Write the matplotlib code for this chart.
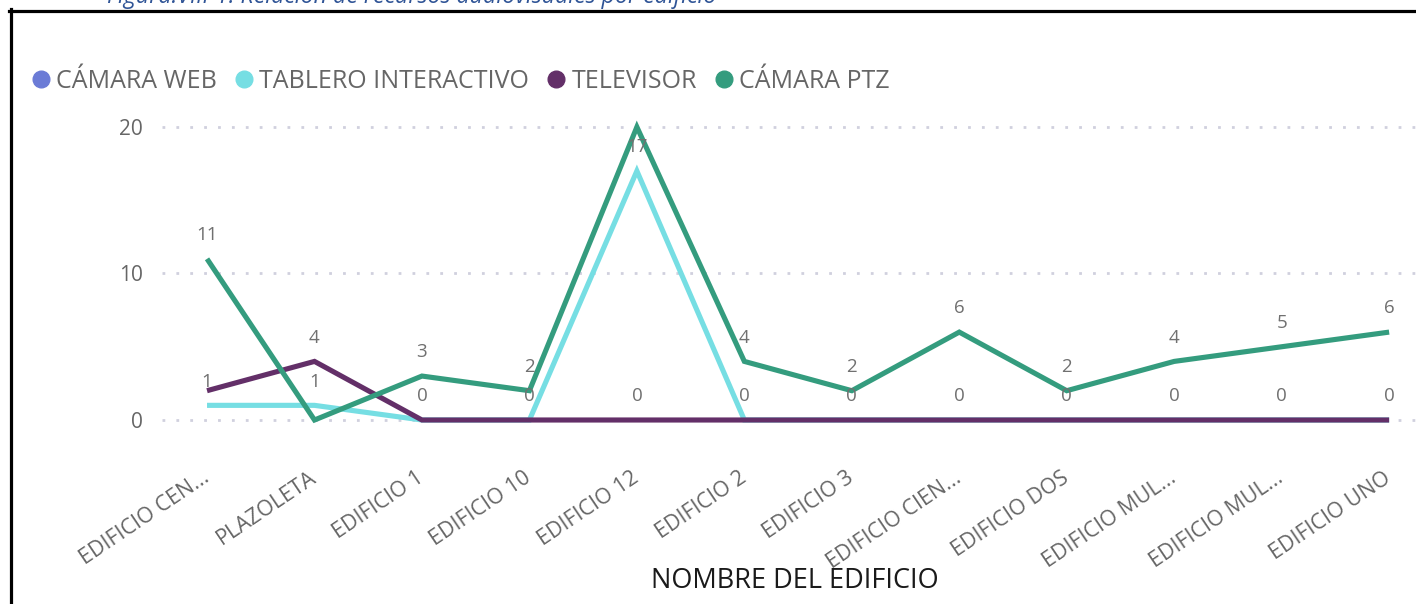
import matplotlib
matplotlib.use("Agg")
import matplotlib.pyplot as plt
from matplotlib.lines import Line2D

NAN = float("nan")

# Recursos audiovisuales por edificio
edificios = ["EDIFICIO CEN...", "PLAZOLETA", "EDIFICIO 1", "EDIFICIO 10",
             "EDIFICIO 12", "EDIFICIO 2", "EDIFICIO 3", "EDIFICIO CIEN...",
             "EDIFICIO DOS", "EDIFICIO MUL...", "EDIFICIO MUL...", "EDIFICIO UNO"]
camara_web = [NAN] * 12  # sin registros
tablero_interactivo = [1, 1, 0, 0, 17, 0, 0, 0, 0, 0, 0, 0]
televisor = [2, 4, 0, 0, 0, 0, 0, 0, 0, 0, 0, 0]
camara_ptz = [11, 0, 3, 2, 20, 4, 2, 6, 2, 4, 5, 6]
y_ticks = [0, 10, 20]

# indices whose value label is displayed, per series
etiquetas_tablero = [0, 1, 4]
etiquetas_televisor = [1, 2, 3, 4, 5, 6, 7, 8, 9, 10, 11]
etiquetas_ptz = [0, 2, 3, 5, 6, 7, 8, 9, 10, 11]

series = [
    ("CÁMARA WEB", camara_web, "#6B7BD6", []),
    ("TABLERO INTERACTIVO", tablero_interactivo, "#76DEE3", etiquetas_tablero),
    ("TELEVISOR", televisor, "#632F68", etiquetas_televisor),
    ("CÁMARA PTZ", camara_ptz, "#349C7E", etiquetas_ptz),
]

FONT = "Open Sans"
GRIS = "#666666"
plt.rcParams["font.family"] = [FONT, "DejaVu Sans"]

W, H = 1416, 604
fig = plt.figure(figsize=(W / 100, H / 100), dpi=100)
fig.patch.set_facecolor("white")

# plot area in pixels
left_px, right_px, top_px, bot_px = 162, 1416, 110, 440
ax = fig.add_axes([left_px / W, 1 - bot_px / H,
                   (right_px - left_px) / W, (bot_px - top_px) / H])

x = list(range(len(edificios)))
for nombre, valores, color, idx in series:
    ax.plot(x, valores, color=color, lw=3.7, solid_joinstyle="miter",
            solid_capstyle="butt", clip_on=False, label=nombre)

for nombre, valores, color, idx in series:
    for i in idx:
        ax.annotate(str(valores[i]), (x[i], valores[i]), xytext=(0, 17),
                    textcoords="offset points", ha="center", va="center",
                    fontsize=13.5, color="#707070", annotation_clip=False)

ax.set_xlim(-0.419, 11.25)
ax.set_ylim(-1.365, 21.16)
ax.set_yticks(y_ticks)
ax.set_yticklabels([str(v) for v in y_ticks], fontsize=15, color=GRIS)
ax.set_xticks(x)
ax.set_xticklabels(edificios, fontsize=15.5, color=GRIS, rotation=34,
                   ha="right", va="center", rotation_mode="anchor")
ax.tick_params(axis="both", length=0)
ax.tick_params(axis="y", pad=14)
ax.tick_params(axis="x", pad=26)
for s in ax.spines.values():
    s.set_visible(False)
ax.yaxis.grid(True, color="#D0D0DE", lw=2.0, linestyle=(0, (1, 4)))
ax.set_axisbelow(True)
ax.set_xlabel("NOMBRE DEL EDIFICIO", fontsize=19.5, color="#1a1a1a")
ax.xaxis.set_label_coords((795 - left_px) / (right_px - left_px),
                          -(581 - bot_px) / (bot_px - top_px))
ax.xaxis.label.set_va("center")

# legend
handles = [Line2D([], [], marker="o", linestyle="none", markersize=12,
                  markerfacecolor=c, markeredgecolor=c) for _, _, c, _ in series]
leg = fig.legend(handles, [s[0] for s in series], loc="center left",
                 bbox_to_anchor=(33 / W, 1 - 81 / H), ncol=4, frameon=False,
                 handlelength=0.6, handletextpad=0.3, columnspacing=0.8,
                 borderpad=0, borderaxespad=0, fontsize=18)
for t in leg.get_texts():
    t.set_color(GRIS)

# caption (cut by the upper page edge) and frame
fig.text(107 / W, 1 - 3 / H,
         "Figura.VIII-1. Relación de recursos audiovisuales por edificio",
         fontsize=16.7, style="italic", color="#2F5496", ha="left", va="baseline")
fig.add_artist(Line2D([9 / W, 1], [1 - 10.5 / H, 1 - 10.5 / H],
                      transform=fig.transFigure, color="black", lw=2.3))
fig.add_artist(Line2D([10.5 / W, 10.5 / W], [0, 1 - 9 / H],
                      transform=fig.transFigure, color="black", lw=2.3))

fig.savefig("out.png", dpi=100)
